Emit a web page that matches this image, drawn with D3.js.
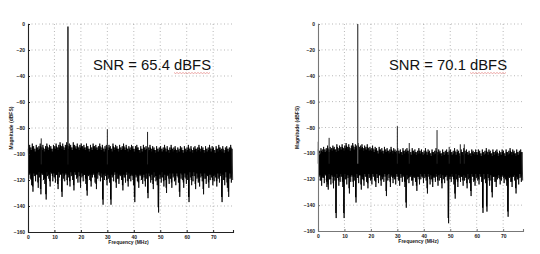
<!DOCTYPE html>
<html>
<head>
<meta charset="utf-8">
<script src="https://cdn.jsdelivr.net/npm/d3@7"></script>
<style>
  body { margin: 0; background: #fff; }
  svg { display: block; font-family: "Liberation Sans", Arial, sans-serif; }
</style>
</head>
<body>
<div id="chart"></div>
<script>
const WIDTH = 540;
const HEIGHT = 254;

// frequency axis (MHz) and magnitude axis (dBFS)
const xTicks = [0, 10, 20, 30, 40, 50, 60, 70];
const yTicks = [0, -20, -40, -60, -80, -100, -120, -140, -160];
const binWidth = 0.5;   // MHz per envelope bin

// left plot : upper / lower noise envelope per 0.5 MHz bin
const hiLeft = [
  -96,-93,-95,-92,-94,-96,-93,-95,-94,-92,-95,-93,-96,-94,-92,-95,-93,-94,-96,-93,
  -94,-92,-95,-93,-91,-94,-92,-95,-93,-91,-94,-92,-93,-95,-91,-93,-94,-92,-95,-93,
  -92,-94,-93,-95,-92,-94,-96,-93,-95,-92,-94,-93,-95,-94,-92,-95,-93,-96,-94,-93,
  -95,-93,-94,-96,-92,-95,-93,-94,-96,-93,-95,-94,-92,-95,-93,-96,-94,-95,-93,-94,
  -96,-94,-93,-95,-97,-94,-96,-93,-95,-94,-96,-95,-93,-96,-94,-95,-97,-94,-96,-95,
  -94,-96,-95,-93,-96,-94,-97,-95,-93,-96,-95,-94,-97,-95,-96,-94,-95,-97,-94,-96,
  -95,-93,-96,-94,-97,-95,-94,-96,-95,-93,-96,-94,-95,-97,-94,-96,-95,-93,-96,-94,
  -95,-97,-94,-96,-93,-95,-96,-94,-97,-95,-94,-96,-95,-93,-96
];
const loLeft = [
  -116,-119,-124,-129,-117,-121,-115,-126,-118,-131,-116,-120,-123,-135,-117,-119,-125,-115,-121,-118,
  -122,-116,-127,-118,-115,-133,-119,-121,-116,-124,-118,-125,-117,-120,-128,-116,-119,-122,-117,-126,
  -118,-121,-116,-123,-132,-117,-120,-125,-118,-116,-122,-127,-119,-116,-121,-118,-139,-120,-117,-124,
  -119,-122,-139,-118,-121,-116,-126,-119,-123,-117,-120,-128,-118,-122,-116,-125,-119,-121,-117,-124,
  -137,-118,-121,-126,-117,-120,-123,-118,-125,-119,-134,-117,-122,-120,-127,-118,-121,-124,-145,-119,
  -122,-118,-125,-120,-130,-117,-123,-119,-126,-118,-121,-124,-117,-122,-133,-119,-120,-126,-118,-123,
  -120,-137,-118,-124,-121,-117,-127,-119,-122,-125,-118,-121,-131,-119,-123,-117,-126,-120,-118,-124,
  -121,-118,-125,-119,-122,-117,-137,-120,-124,-118,-126,-133,-119,-122,-120
];
const spikeFreqLeft = [5, 15.1, 30, 45.2];
const spikeValLeft = [-88, -2, -81, -83];

// right plot
const hiRight = [
  -97,-98,-96,-97,-95,-97,-96,-94,-97,-95,-96,-94,-95,-97,-93,-96,-94,-95,-93,-96,
  -94,-92,-95,-93,-96,-94,-92,-95,-93,-94,-92,-95,-94,-93,-96,-94,-95,-93,-96,-95,
  -96,-94,-97,-95,-96,-98,-95,-97,-96,-98,-95,-97,-96,-98,-97,-95,-98,-96,-97,-98,
  -96,-98,-97,-99,-96,-98,-97,-96,-98,-97,-99,-96,-98,-97,-99,-98,-96,-98,-97,-99,
  -98,-96,-99,-97,-98,-100,-97,-99,-98,-96,-99,-97,-98,-100,-97,-99,-98,-97,-99,-98,
  -97,-99,-98,-96,-99,-97,-98,-100,-97,-99,-96,-98,-97,-99,-98,-100,-97,-98,-99,-97,
  -99,-97,-98,-100,-97,-99,-98,-96,-99,-97,-98,-100,-97,-99,-98,-97,-100,-98,-99,-97,
  -98,-100,-97,-99,-98,-96,-99,-97,-98,-100,-97,-99,-98,-97,-99
];
const loRight = [
  -118,-121,-125,-119,-123,-117,-126,-128,-120,-124,-118,-127,-121,-150,-119,-125,-122,-118,-126,-150,
  -120,-124,-119,-131,-122,-118,-126,-121,-138,-119,-123,-117,-128,-120,-125,-118,-122,-127,-119,-121,
  -124,-118,-121,-126,-119,-123,-117,-125,-120,-122,-118,-133,-121,-119,-126,-118,-123,-120,-124,-118,
  -121,-125,-119,-122,-118,-126,-142,-120,-123,-118,-121,-125,-119,-122,-129,-118,-124,-120,-117,-123,
  -119,-121,-131,-118,-124,-120,-126,-119,-122,-118,-125,-121,-119,-127,-120,-123,-118,-121,-154,-120,
  -122,-118,-124,-135,-120,-126,-119,-122,-118,-125,-121,-119,-127,-120,-123,-133,-118,-122,-125,-119,
  -121,-124,-118,-122,-146,-120,-123,-145,-119,-125,-121,-134,-118,-122,-126,-120,-119,-124,-121,-118,
  -123,-120,-125,-149,-119,-122,-126,-118,-121,-131,-120,-124,-119,-122,-121
];
const spikeFreqRight = [0.1, 4.2, 15, 30, 34.5, 45, 49.6, 53.8, 55.3];
const spikeValRight = [-91, -88, 0, -79, -92, -82, -95, -93, -93];

const snrLabels = ["SNR = 65.4 dBFS", "SNR = 70.1 dBFS"];

const panels = [
  { hi: hiLeft, lo: loLeft, sf: spikeFreqLeft, sv: spikeValLeft, snr: snrLabels[0],
    left: 28, right: 233, top: 24, bottom: 232, axisColor: "#222", mainColor: "#111",
    snrX: 93, ylabX: 13, coreFloor: -116 },
  { hi: hiRight, lo: loRight, sf: spikeFreqRight, sv: spikeValRight, snr: snrLabels[1],
    left: 318, right: 523, top: 24, bottom: 231, axisColor: "#777", mainColor: "#555",
    snrX: 389, ylabX: 299, coreFloor: -118 }
];

const svg = d3.select("#chart").append("svg")
  .attr("width", WIDTH)
  .attr("height", HEIGHT);

panels.forEach(p => drawPanel(p));

function drawPanel(p) {
  const x = d3.scaleLinear().domain([0, 77.5]).range([p.left, p.right]);
  const y = d3.scaleLinear().domain([-160, 0]).range([p.bottom, p.top]);
  const g = svg.append("g");

  // dotted grid
  g.append("g").selectAll("line")
    .data(xTicks.slice(1))
    .enter().append("line")
      .attr("x1", d => x(d)).attr("x2", d => x(d))
      .attr("y1", p.top).attr("y2", p.bottom)
      .attr("stroke", "#9a9a9a").attr("stroke-width", 0.7)
      .attr("stroke-dasharray", "1,2.5");
  g.append("g").selectAll("line")
    .data(yTicks.slice(0, -1))
    .enter().append("line")
      .attr("x1", p.left).attr("x2", p.right)
      .attr("y1", d => y(d)).attr("y2", d => y(d))
      .attr("stroke", "#9a9a9a").attr("stroke-width", 0.7)
      .attr("stroke-dasharray", "1,2.5");

  // dense core of the noise floor, where the trace overlaps itself
  const core = d3.area()
    .curve(d3.curveStepAfter)
    .x((d, i) => x(i * binWidth))
    .y0((d, i) => y(Math.min(p.lo[i] + 4, p.coreFloor + (i % 3))))
    .y1(d => y(d - 2));
  g.append("path")
    .datum(p.hi)
    .attr("d", core)
    .attr("fill", "#000");

  // full trace : zigzag between upper and lower envelope of each bin
  const pts = [];
  p.hi.forEach((h, i) => {
    const f = i * binWidth;
    pts.push([f + binWidth * 0.25, h]);
    pts.push([f + binWidth * 0.75, p.lo[i]]);
  });
  const line = d3.line().x(d => x(d[0])).y(d => y(d[1]));
  g.append("path")
    .datum(pts)
    .attr("d", line)
    .attr("fill", "none")
    .attr("stroke", "#000")
    .attr("stroke-width", 0.8);

  // tones and spurs
  g.append("g").selectAll("line")
    .data(p.sf.map((f, i) => [f, p.sv[i]]))
    .enter().append("line")
      .attr("x1", d => x(d[0])).attr("x2", d => x(d[0]))
      .attr("y1", d => y(d[1])).attr("y2", y(-108))
      .attr("stroke", d => d[1] > -20 ? p.mainColor : "#222")
      .attr("stroke-width", d => d[1] > -20 ? 1.4 : 1);

  // axes
  const xAxis = d3.axisBottom(x).tickValues(xTicks).tickSize(-2).tickPadding(3);
  const yAxis = d3.axisLeft(y).tickValues(yTicks).tickSize(-2).tickPadding(3);
  const gx = g.append("g").attr("transform", `translate(0,${p.bottom})`).call(xAxis);
  const gy = g.append("g").attr("transform", `translate(${p.left},0)`).call(yAxis);
  [gx, gy].forEach(a => {
    a.select(".domain").attr("stroke", p.axisColor).attr("stroke-width", 1.1);
    a.selectAll(".tick line").attr("stroke", p.axisColor);
    a.selectAll(".tick text")
      .attr("font-size", 5).attr("font-weight", "bold").attr("fill", "#222")
      .attr("font-family", "'Liberation Sans', Arial, sans-serif");
  });

  g.append("text")
    .attr("x", (x(0) + x(77.5)) / 2 - 2)
    .attr("y", p.bottom + 12)
    .attr("text-anchor", "middle")
    .attr("font-size", 5).attr("font-weight", "bold").attr("fill", "#222")
    .text("Frequency (MHz)");

  g.append("text")
    .attr("transform", `translate(${p.ylabX},${(p.top + p.bottom) / 2}) rotate(-90)`)
    .attr("text-anchor", "middle")
    .attr("font-size", 5).attr("font-weight", "bold").attr("fill", "#222")
    .text("Magnitude (dBFS)");

  // SNR annotation with the spell-check squiggle under dBFS
  const t = g.append("text")
    .attr("x", p.snrX).attr("y", 70)
    .attr("font-size", 14.8).attr("fill", "#111")
    .text(p.snr);
  const node = t.node();
  const n = p.snr.length;
  const start = node.getStartPositionOfChar(n - 4).x;
  const end = node.getEndPositionOfChar(n - 1).x;
  const sq = [];
  for (let sx = start, k = 0; sx <= end; sx += 1.5, k++) {
    sq.push([sx, 72.5 + (k % 2 ? 1 : 0)]);
  }
  g.append("path")
    .attr("d", d3.line()(sq))
    .attr("fill", "none")
    .attr("stroke", "#d9534f")
    .attr("stroke-opacity", 0.7)
    .attr("stroke-width", 0.7);
}
</script>
</body>
</html>
